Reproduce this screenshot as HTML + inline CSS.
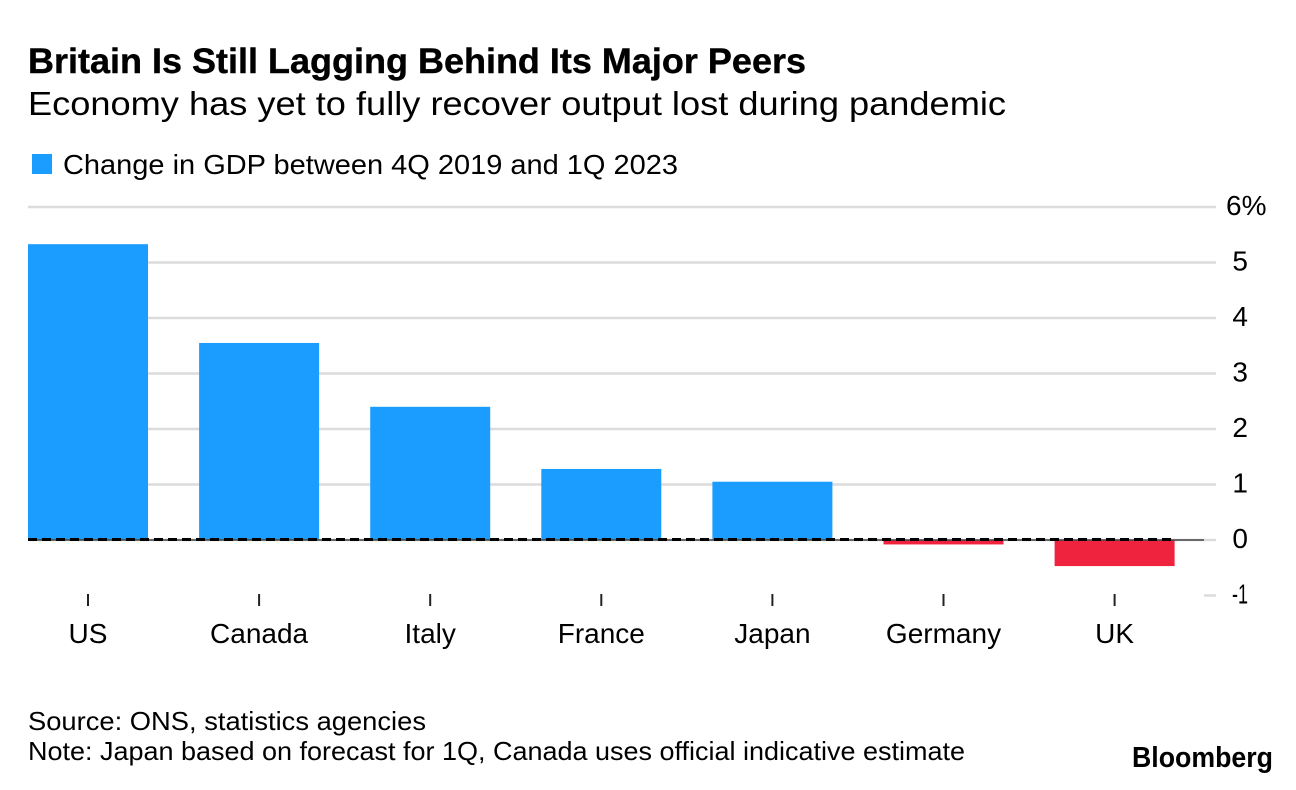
<!DOCTYPE html>
<html lang="en">
<head>
<meta charset="utf-8">
<title>Britain Is Still Lagging Behind Its Major Peers</title>
<style>
html,body{margin:0;padding:0;background:#fff;width:1296px;height:790px;overflow:hidden}
svg{display:block}
text{font-family:"Liberation Sans",Arial,sans-serif;fill:#000}
</style>
</head>
<body>
<svg id="chart" width="1296" height="790" viewBox="0 0 1296 790" xmlns="http://www.w3.org/2000/svg">
<rect width="1296" height="790" fill="#fff"/>
<text x="28" y="73" font-size="35" font-weight="700" stroke="#000" stroke-width="0.4" textLength="778" lengthAdjust="spacingAndGlyphs">Britain Is Still Lagging Behind Its Major Peers</text>
<text x="28" y="115" font-size="33" textLength="978" lengthAdjust="spacingAndGlyphs">Economy has yet to fully recover output lost during pandemic</text>
<rect x="32" y="154" width="20" height="20" fill="#1b9dff"/>
<text x="63" y="174" font-size="28" textLength="615" lengthAdjust="spacingAndGlyphs">Change in GDP between 4Q 2019 and 1Q 2023</text>
<g id="grid"></g>
<g id="bars"></g>
<g id="zero"></g>
<g id="xaxis"></g>
<text x="28" y="730" font-size="26" textLength="398" lengthAdjust="spacingAndGlyphs">Source: ONS, statistics agencies</text>
<text x="28" y="760" font-size="26" textLength="937" lengthAdjust="spacingAndGlyphs">Note: Japan based on forecast for 1Q, Canada uses official indicative estimate</text>
<text x="1132" y="767" font-size="28.5" font-weight="700" textLength="141" lengthAdjust="spacingAndGlyphs">Bloomberg</text>
</svg>
<script>
const categories = ['US', 'Canada', 'Italy', 'France', 'Japan', 'Germany', 'UK'];
const gdpChange = [5.33, 3.55, 2.4, 1.28, 1.05, -0.08, -0.47];
const yTicks = [6, 5, 4, 3, 2, 1, 0, -1];
const NS = 'http://www.w3.org/2000/svg';
const plotLeft = 28, bandStep = 171.1, barWidth = 120, gridRight = 1216;
const yScale = v => 540 - v * 55.5;
const xBand = i => plotLeft + i * bandStep;
function make(parent, tag, attrs, txt) {
  const el = document.createElementNS(NS, tag);
  for (const k in attrs) el.setAttribute(k, attrs[k]);
  if (txt !== undefined) el.textContent = txt;
  document.getElementById(parent).appendChild(el);
  return el;
}
yTicks.forEach(t => {
  const line = make('grid', 'line', {x1: t === -1 ? 1204 : plotLeft, x2: gridRight, y1: yScale(t), y2: yScale(t), stroke: '#dcdcdc', 'stroke-width': 2.5});
  
  
  const attrs = {x: t === 6 ? 1226 : 1248, y: yScale(t) + 8, 'font-size': 28, 'text-anchor': t === 6 ? 'start' : 'end'};
  if (t < 0) {
    attrs.x = 1232;
    attrs['text-anchor'] = 'start';
    attrs.textLength = 16;
    attrs.lengthAdjust = 'spacingAndGlyphs';
  }
  const label = make('grid', 'text', attrs, t === 6 ? t + '%' : String(t));
  
  
});
gdpChange.forEach((v, i) => {
  const top = Math.min(yScale(v), yScale(0));
  const bar = make('bars', 'rect', {x: xBand(i), y: top, width: barWidth, height: Math.abs(yScale(v) - yScale(0)), fill: v >= 0 ? '#1b9dff' : '#f0233f'});
  
  
  const cx = xBand(i) + barWidth / 2;
  const tick = make('xaxis', 'line', {x1: cx, x2: cx, y1: 594, y2: 606, stroke: '#222', 'stroke-width': 2});
  
  
  const label = make('xaxis', 'text', {x: cx, y: 643, 'font-size': 28, 'text-anchor': 'middle'}, categories[i]);
  
  
});
const axis = make('zero', 'line', {x1: plotLeft, x2: 1204, y1: yScale(0), y2: yScale(0), stroke: '#444', 'stroke-width': 1.5});


const dashed = make('zero', 'line', {x1: plotLeft, x2: 1175, y1: yScale(0) - 0.5, y2: yScale(0) - 0.5, stroke: '#000', 'stroke-width': 3, 'stroke-dasharray': '9 5'});


</script>
</body>
</html>
